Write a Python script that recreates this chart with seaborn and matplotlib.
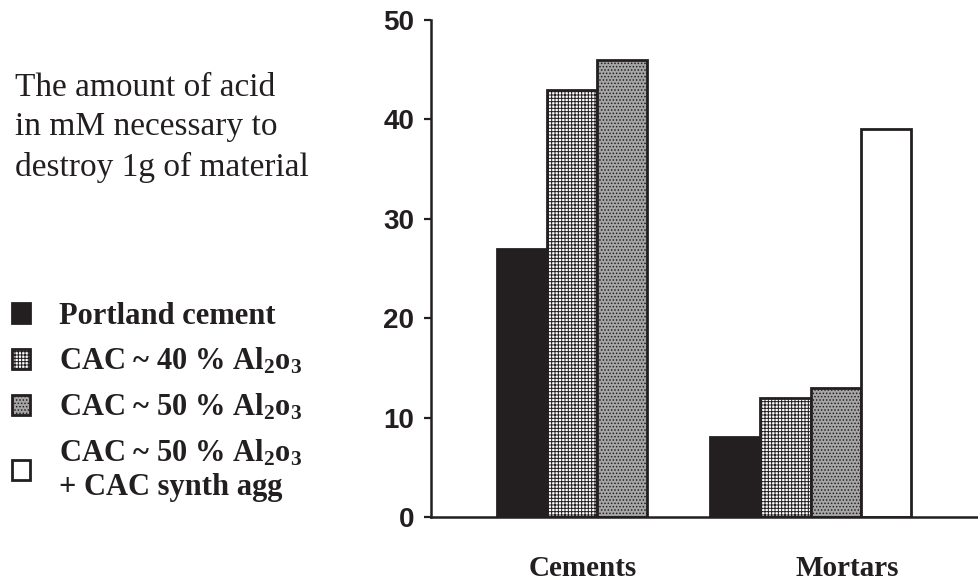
import numpy as np
import pandas as pd
import matplotlib
matplotlib.use("Agg")
import matplotlib.pyplot as plt
import seaborn as sns

# === data ===
categories = ["Cements", "Mortars"]
materials = ["Portland cement",
             "CAC ~ 40 % Al$_2$o$_3$",
             "CAC ~ 50 % Al$_2$o$_3$",
             "CAC ~ 50 % Al$_2$o$_3$\n+ CAC synth agg"]
cements = [27, 43, 46, np.nan]   # no synthetic-aggregate bar for cements
mortars = [8, 12, 13, 39]
yticks = [0, 10, 20, 30, 40, 50]
note = "The amount of acid\nin mM necessary to\ndestroy 1g of material"

face = ["#231f20", "white", "#a6a6a6", "white"]
hatches = [None, "+++++", ".....", None]

df = pd.DataFrame({
    "category": np.repeat(categories, len(materials)),
    "material": materials * len(categories),
    "value": cements + mortars,
})

sns.set_theme(style="white")
plt.rcParams["mathtext.default"] = "regular"
plt.rcParams["hatch.linewidth"] = 0.7

fig = plt.figure(figsize=(9.79, 5.83), dpi=100)
ax = fig.add_axes([431 / 979, 66 / 583, 1 - 431 / 979, 497 / 583])

sns.barplot(data=df, x="category", y="value", hue="material",
            hue_order=materials, order=categories, palette=face,
            width=0.94, edgecolor="#231f20", linewidth=2.0,
            saturation=1, legend=False, ax=ax)

for cont, h in zip(ax.containers, hatches):
    for p in cont:
        if h:
            p.set_hatch(h)

ax.set_xlim(-0.78, 1.79)
ax.set_ylim(0, 50)
ax.set_yticks(yticks)
ax.set_xlabel("")
ax.set_ylabel("")
for s in ["top", "right"]:
    ax.spines[s].set_visible(False)
for s in ["left", "bottom"]:
    ax.spines[s].set_linewidth(1.8)
    ax.spines[s].set_color("#231f20")

ax.tick_params(axis="y", length=5, width=1.6, color="#231f20", pad=7,
               left=True, labelsize=20)
for t in ax.get_yticklabels():
    t.set_fontfamily("Liberation Sans")
    t.set_fontweight("bold")
    t.set_color("#231f20")

# category labels sit a bit off the group centres in the original
ax.set_xticks([-0.07, 0.17 + 1])
ax.set_xticklabels(categories, fontfamily="Liberation Serif",
                   fontweight="bold", fontsize=21, color="#231f20")
ax.tick_params(axis="x", length=0, pad=27)

fig.text(15 / 979, 1 - 72 / 583, note, family="Liberation Serif",
         fontsize=24, va="top", ha="left", linespacing=1.4,
         color="#231f20")

handles = [c[0] for c in ax.containers]
fig.legend(handles, materials, loc="upper left",
           bbox_to_anchor=(12 / 979, 1 - 302 / 583), frameon=False,
           prop={"family": "Liberation Serif", "weight": "bold", "size": 22},
           handlelength=0.58, handleheight=0.62, handletextpad=0.95,
           labelspacing=0.5, borderpad=0, borderaxespad=0)
for t in fig.legends[0].get_texts():
    t.set_color("#231f20")

plt.savefig("out.png", dpi=100)
plt.close()
